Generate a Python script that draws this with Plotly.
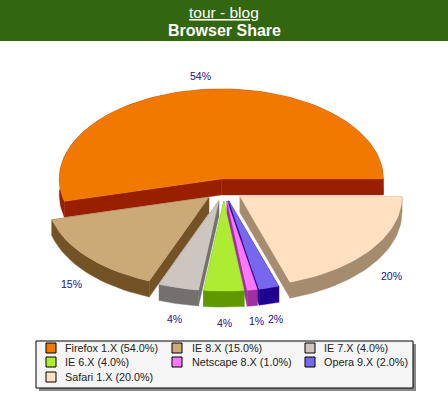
import math
import plotly.graph_objects as go

categories = ["Firefox 1.X", "IE 8.X", "IE 7.X", "IE 6.X", "Netscape 8.X", "Opera 9.X", "Safari 1.X"]
shares = [54, 15, 4, 4, 1, 2, 20]
top_colors = ["#F27900", "#CCAA77", "#CCC5C0", "#AEEB33", "#FF77FF", "#7766EE", "#FFE0C0"]
side_colors = ["#982000", "#735226", "#757070", "#5F9800", "#A030A0", "#200090", "#A68C6E"]
title_main = "tour - blog"
title_sub = "Browser Share"

# geometry
CX, CY, RX, RY, DEPTH, EXPLODE = 223.8, 190, 162, 90, 16, 20
K = RY / RX
draw_order = [0, 1, 6, 2, 5, 4, 3]
label_xy = [(200, 76), (71, 284), (174, 319), (224, 323), (256, 321), (275, 319), (391, 276)]
legend_swatch_x = [46, 172, 305]
legend_text_x = [63, 190, 322]
legend_row_y = [348, 362, 377]

fig = go.Figure()

total = sum(shares)
angles = [0]
for v in shares:
    angles.append(angles[-1] + v / total * 360)


def sector(i):
    a0, a1 = angles[i], angles[i + 1]
    mid = math.radians((a0 + a1) / 2)
    ax = CX + EXPLODE * math.cos(mid)
    ay = CY - EXPLODE * K * math.sin(mid)
    n = max(4, int((a1 - a0) / 2))
    arc = []
    for j in range(n + 1):
        t = math.radians(a0 + (a1 - a0) * j / n)
        arc.append((ax + RX * math.cos(t), ay - RY * math.sin(t)))
    return (ax, ay), arc


def poly(points, color):
    closed = points + [points[0]]
    fig.add_trace(go.Scatter(x=[p[0] for p in closed], y=[p[1] for p in closed], mode="lines",
                             fill="toself", fillcolor=color, line=dict(color=color, width=0.4),
                             hoverinfo="skip", showlegend=False))


def down(points):
    return [(p[0], p[1] + DEPTH) for p in points]


for i in draw_order:
    apex, arc = sector(i)
    # outer curved wall
    poly(arc + down(arc)[::-1], side_colors[i])
    # radial walls
    for end in (arc[0], arc[-1]):
        poly([apex, end, (end[0], end[1] + DEPTH), (apex[0], apex[1] + DEPTH)], side_colors[i])
    # top face
    poly([apex] + arc, top_colors[i])

shapes = [
    dict(type="rect", x0=0, x1=448, y0=0, y1=41, fillcolor="#336611", line_width=0, layer="below"),
    dict(type="rect", x0=39, x1=416, y0=344, y1=391, fillcolor="#8A8A8A", line_width=0, layer="above"),
    dict(type="rect", x0=36, x1=413, y0=341, y1=388, fillcolor="#F5F5F5",
         line=dict(color="#000000", width=1), layer="above"),
]
annotations = [
    dict(x=224, y=12, text=f"<u>{title_main}</u>", font=dict(size=15.5, color="white")),
    dict(x=224, y=30, text=f"<b>{title_sub}</b>", font=dict(size=16, color="white")),
]
for i, v in enumerate(shares):
    annotations.append(dict(x=label_xy[i][0], y=label_xy[i][1], text=f"{v}%",
                            font=dict(size=10.5, color="#1A0F8C")))
    row, col = i // 3, i % 3
    sx = legend_swatch_x[col]
    sy = legend_row_y[row]
    shapes.append(dict(type="rect", x0=sx, x1=sx + 10, y0=sy - 5, y1=sy + 5, fillcolor=top_colors[i],
                       line=dict(color="#000000", width=1), layer="above"))
    annotations.append(dict(x=legend_text_x[col], y=sy, xanchor="left", text=f"{categories[i]} ({v:.1f}%)",
                            font=dict(size=10.8, color="#222222")))

for a in annotations:
    a.update(xref="x", yref="y", showarrow=False)
    a.setdefault("xanchor", "center")
    a["yanchor"] = "middle"

fig.update_layout(
    width=448, height=394, margin=dict(l=0, r=0, t=0, b=0),
    paper_bgcolor="white", plot_bgcolor="white",
    font=dict(family="Liberation Sans, Arial, sans-serif"),
    xaxis=dict(range=[0, 448], visible=False, fixedrange=True),
    yaxis=dict(range=[394, 0], visible=False, fixedrange=True),
    shapes=shapes, annotations=annotations, showlegend=False,
)
fig.write_html("out.html", config={"displayModeBar": False},
               post_script="document.body.style.margin='0';document.documentElement.style.overflow='hidden';")
